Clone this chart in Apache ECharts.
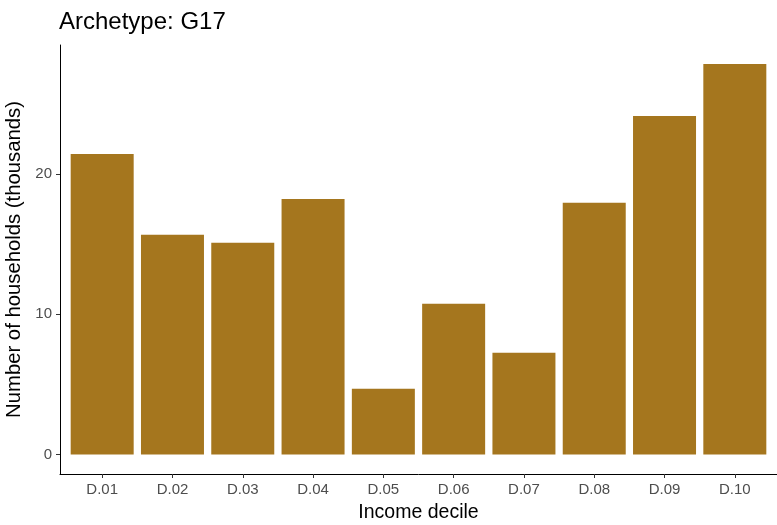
<!DOCTYPE html>
<html><head><meta charset="utf-8">
<script src="https://cdn.jsdelivr.net/npm/echarts@6/dist/echarts.min.js"></script>
<style>html,body{margin:0;padding:0;background:#fff}#c{width:777px;height:525px}</style>
</head><body><div id="c"></div>
<script>
const categories = ['D.01','D.02','D.03','D.04','D.05','D.06','D.07','D.08','D.09','D.10'];
const households = [21.42, 15.66, 15.09, 18.22, 4.68, 10.75, 7.26, 17.94, 24.13, 27.83];
const yTicks = [0, 10, 20];

const chart = echarts.init(document.getElementById('c'), null, {renderer: 'canvas'});
const positions = categories.map((c, i) => i + 1);
const font = 'Liberation Sans, Arial, sans-serif';
chart.setOption({
  animation: false,
  backgroundColor: '#ffffff',
  title: {
    text: 'Archetype: G17', left: 59, top: 10, padding: 0,
    textStyle: {fontFamily: font, fontSize: 24, fontWeight: 'normal', color: '#000'}
  },
  grid: {left: 60, right: 0, top: 45, bottom: 51, containLabel: false, outerBoundsMode: 'none'},
  xAxis: {
    type: 'value', min: 0.4, max: 10.6,
    name: 'Income decile', nameLocation: 'middle', nameGap: 29,
    nameTextStyle: {fontFamily: font, fontSize: 19.5, color: '#000'},
    axisLine: {show: true, onZero: false, lineStyle: {color: '#000', width: 1}},
    axisTick: {show: true, length: 4, customValues: positions, lineStyle: {color: '#333'}},
    axisLabel: {customValues: positions, fontFamily: font, fontSize: 15, color: '#4d4d4d', margin: 8,
      formatter: v => categories[Math.round(v) - 1] || ''},
    splitLine: {show: false}
  },
  yAxis: {
    type: 'value', min: -1.39, max: 29.19,
    name: 'Number of households (thousands)', nameLocation: 'middle', nameGap: 29, nameRotate: 90,
    nameTextStyle: {fontFamily: font, fontSize: 20.3, color: '#000'},
    axisLine: {show: true, onZero: false, lineStyle: {color: '#000', width: 1}},
    axisTick: {show: true, length: 4, customValues: yTicks, lineStyle: {color: '#333'}},
    axisLabel: {customValues: yTicks, fontFamily: font, fontSize: 15, color: '#4d4d4d', margin: 8},
    splitLine: {show: false}
  },
  series: [{
    type: 'bar',
    data: households.map((v, i) => [positions[i], v]),
    barWidth: 63,
    itemStyle: {color: '#A5761E'}
  }]
});
</script></body></html>
